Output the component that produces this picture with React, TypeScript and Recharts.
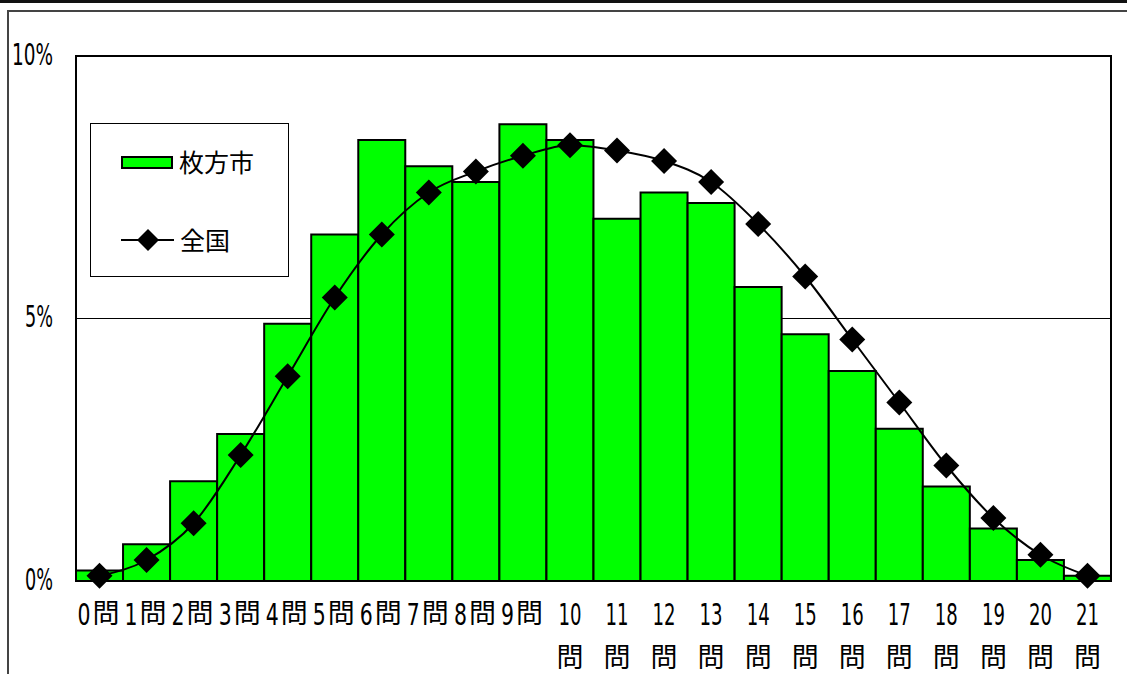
import React from "react";
import {
  ComposedChart,
  Bar,
  Line,
  XAxis,
  YAxis,
  CartesianGrid,
} from "recharts";

const categories = [
  "0問", "1問", "2問", "3問", "4問", "5問", "6問", "7問", "8問", "9問", "10問",
  "11問", "12問", "13問", "14問", "15問", "16問", "17問", "18問", "19問", "20問", "21問",
];
// 枚方市 (%)
const hirakata = [0.2, 0.7, 1.9, 2.8, 4.9, 6.6, 8.4, 7.9, 7.6, 8.7, 8.4, 6.9, 7.4, 7.2, 5.6, 4.7, 4.0, 2.9, 1.8, 1.0, 0.4, 0.1];
// 全国 (%)
const zenkoku = [0.1, 0.4, 1.1, 2.4, 3.9, 5.4, 6.6, 7.4, 7.8, 8.1, 8.3, 8.2, 8.0, 7.6, 6.8, 5.8, 4.6, 3.4, 2.2, 1.2, 0.5, 0.1];
const yTicks = [0, 5, 10];

const data = categories.map((c, i) => ({ name: c, hirakata: hirakata[i], zenkoku: zenkoku[i] }));

const NUM_FONT = "'Liberation Sans Narrow', 'DejaVu Sans Condensed', 'Noto Sans CJK JP', sans-serif";
const CJK_FONT = "'Noto Sans CJK JP', sans-serif";

const Diamond = (props: any) => {
  const { cx, cy } = props;
  if (cx == null || cy == null) return null;
  const r = 13;
  return (
    <polygon
      points={`${cx},${cy - r} ${cx + r},${cy} ${cx},${cy + r} ${cx - r},${cy}`}
      fill="#000"
    />
  );
};

const XTick = (props: any) => {
  const { x, y, payload } = props;
  const lab: string = payload.value;
  const num = lab.replace("問", "");
  if (num.length < 2) {
    return (
      <text x={x - 22} y={y + 27} textAnchor="start" dominantBaseline="middle" fill="#000">
        <tspan fontSize={31} fontFamily={NUM_FONT} textLength={13} lengthAdjust="spacingAndGlyphs">
          {num}
        </tspan>
        <tspan fontSize={27} fontFamily={CJK_FONT} dx={2}>
          問
        </tspan>
      </text>
    );
  }
  return (
    <g>
      <text x={x - 11.5} y={y + 27} textAnchor="start" dominantBaseline="middle" fontSize={31} fill="#000"
        fontFamily={NUM_FONT} textLength={23} lengthAdjust="spacingAndGlyphs">
        {num}
      </text>
      <text x={x} y={y + 71} textAnchor="middle" dominantBaseline="middle" fontSize={27} fill="#000" fontFamily={CJK_FONT}>
        問
      </text>
    </g>
  );
};

const YTick = (props: any) => {
  const { x, y, payload } = props;
  const s = `${payload.value}%`;
  const w = s.length > 2 ? 41 : 28;
  return (
    <text x={x - w} y={y} textAnchor="start" dominantBaseline="middle" fontSize={30} fill="#000"
      fontFamily={NUM_FONT} textLength={w} lengthAdjust="spacingAndGlyphs">
      {s}
    </text>
  );
};

export default function App() {
  return (
    <div style={{ position: "absolute", left: 0, top: 0, width: 1127, height: 674, background: "#fff", overflow: "hidden" }}>
      {/* outer frame */}
      <div style={{ position: "absolute", left: 0, top: 0, width: 1127, height: 3, background: "#111" }} />
      <div
        style={{
          position: "absolute", left: 7, top: 10, width: 1140, height: 700,
          borderLeft: "2px solid #444", borderTop: "2px solid #444", boxSizing: "border-box",
        }}
      />
      <ComposedChart
        width={1127}
        height={674}
        data={data}
        margin={{ top: 56, right: 16, bottom: 0, left: 0 }}
        barCategoryGap={0}
        style={{ position: "absolute", left: 0, top: 0 }}
      >
        <CartesianGrid vertical={false} stroke="#000" strokeWidth={1} />
        <XAxis dataKey="name" height={93} axisLine={false} tickLine={false} interval={0} tick={<XTick />} />
        <YAxis
          width={76}
          domain={[0, 10]}
          ticks={yTicks}
          axisLine={false}
          tickLine={false}
          tickSize={0}
          tickMargin={23}
          tick={<YTick />}
        />
        <Bar dataKey="hirakata" fill="#00FF00" stroke="#000" strokeWidth={2} isAnimationActive={false} />
        <Line
          dataKey="zenkoku"
          type="monotone"
          stroke="#000"
          strokeWidth={2}
          dot={<Diamond />}
          activeDot={false}
          isAnimationActive={false}
        />
      </ComposedChart>
      {/* plot border */}
      <div
        style={{
          position: "absolute", left: 75, top: 55, width: 1037, height: 527,
          border: "2px solid #000", boxSizing: "border-box", pointerEvents: "none",
        }}
      />
      {/* legend */}
      <div
        style={{
          position: "absolute", left: 90, top: 123, width: 199, height: 154,
          border: "1px solid #000", background: "#fff", boxSizing: "border-box",
        }}
      >
        <div style={{ position: "absolute", left: 30, top: 32, width: 52, height: 13, background: "#00FF00", border: "2px solid #000", boxSizing: "border-box" }} />
        <div style={{ position: "absolute", left: 88, top: 22, fontFamily: CJK_FONT, fontSize: 25, lineHeight: "30px", color: "#000", whiteSpace: "nowrap" }}>
          枚方市
        </div>
        <svg style={{ position: "absolute", left: 30, top: 102 }} width={54} height={28}>
          <line x1={0} y1={14} x2={53} y2={14} stroke="#000" strokeWidth={2} />
          <polygon points="27,3 38,14 27,25 16,14" fill="#000" />
        </svg>
        <div style={{ position: "absolute", left: 89, top: 100, fontFamily: CJK_FONT, fontSize: 25, lineHeight: "30px", color: "#000", whiteSpace: "nowrap" }}>
          全国
        </div>
      </div>
    </div>
  );
}
